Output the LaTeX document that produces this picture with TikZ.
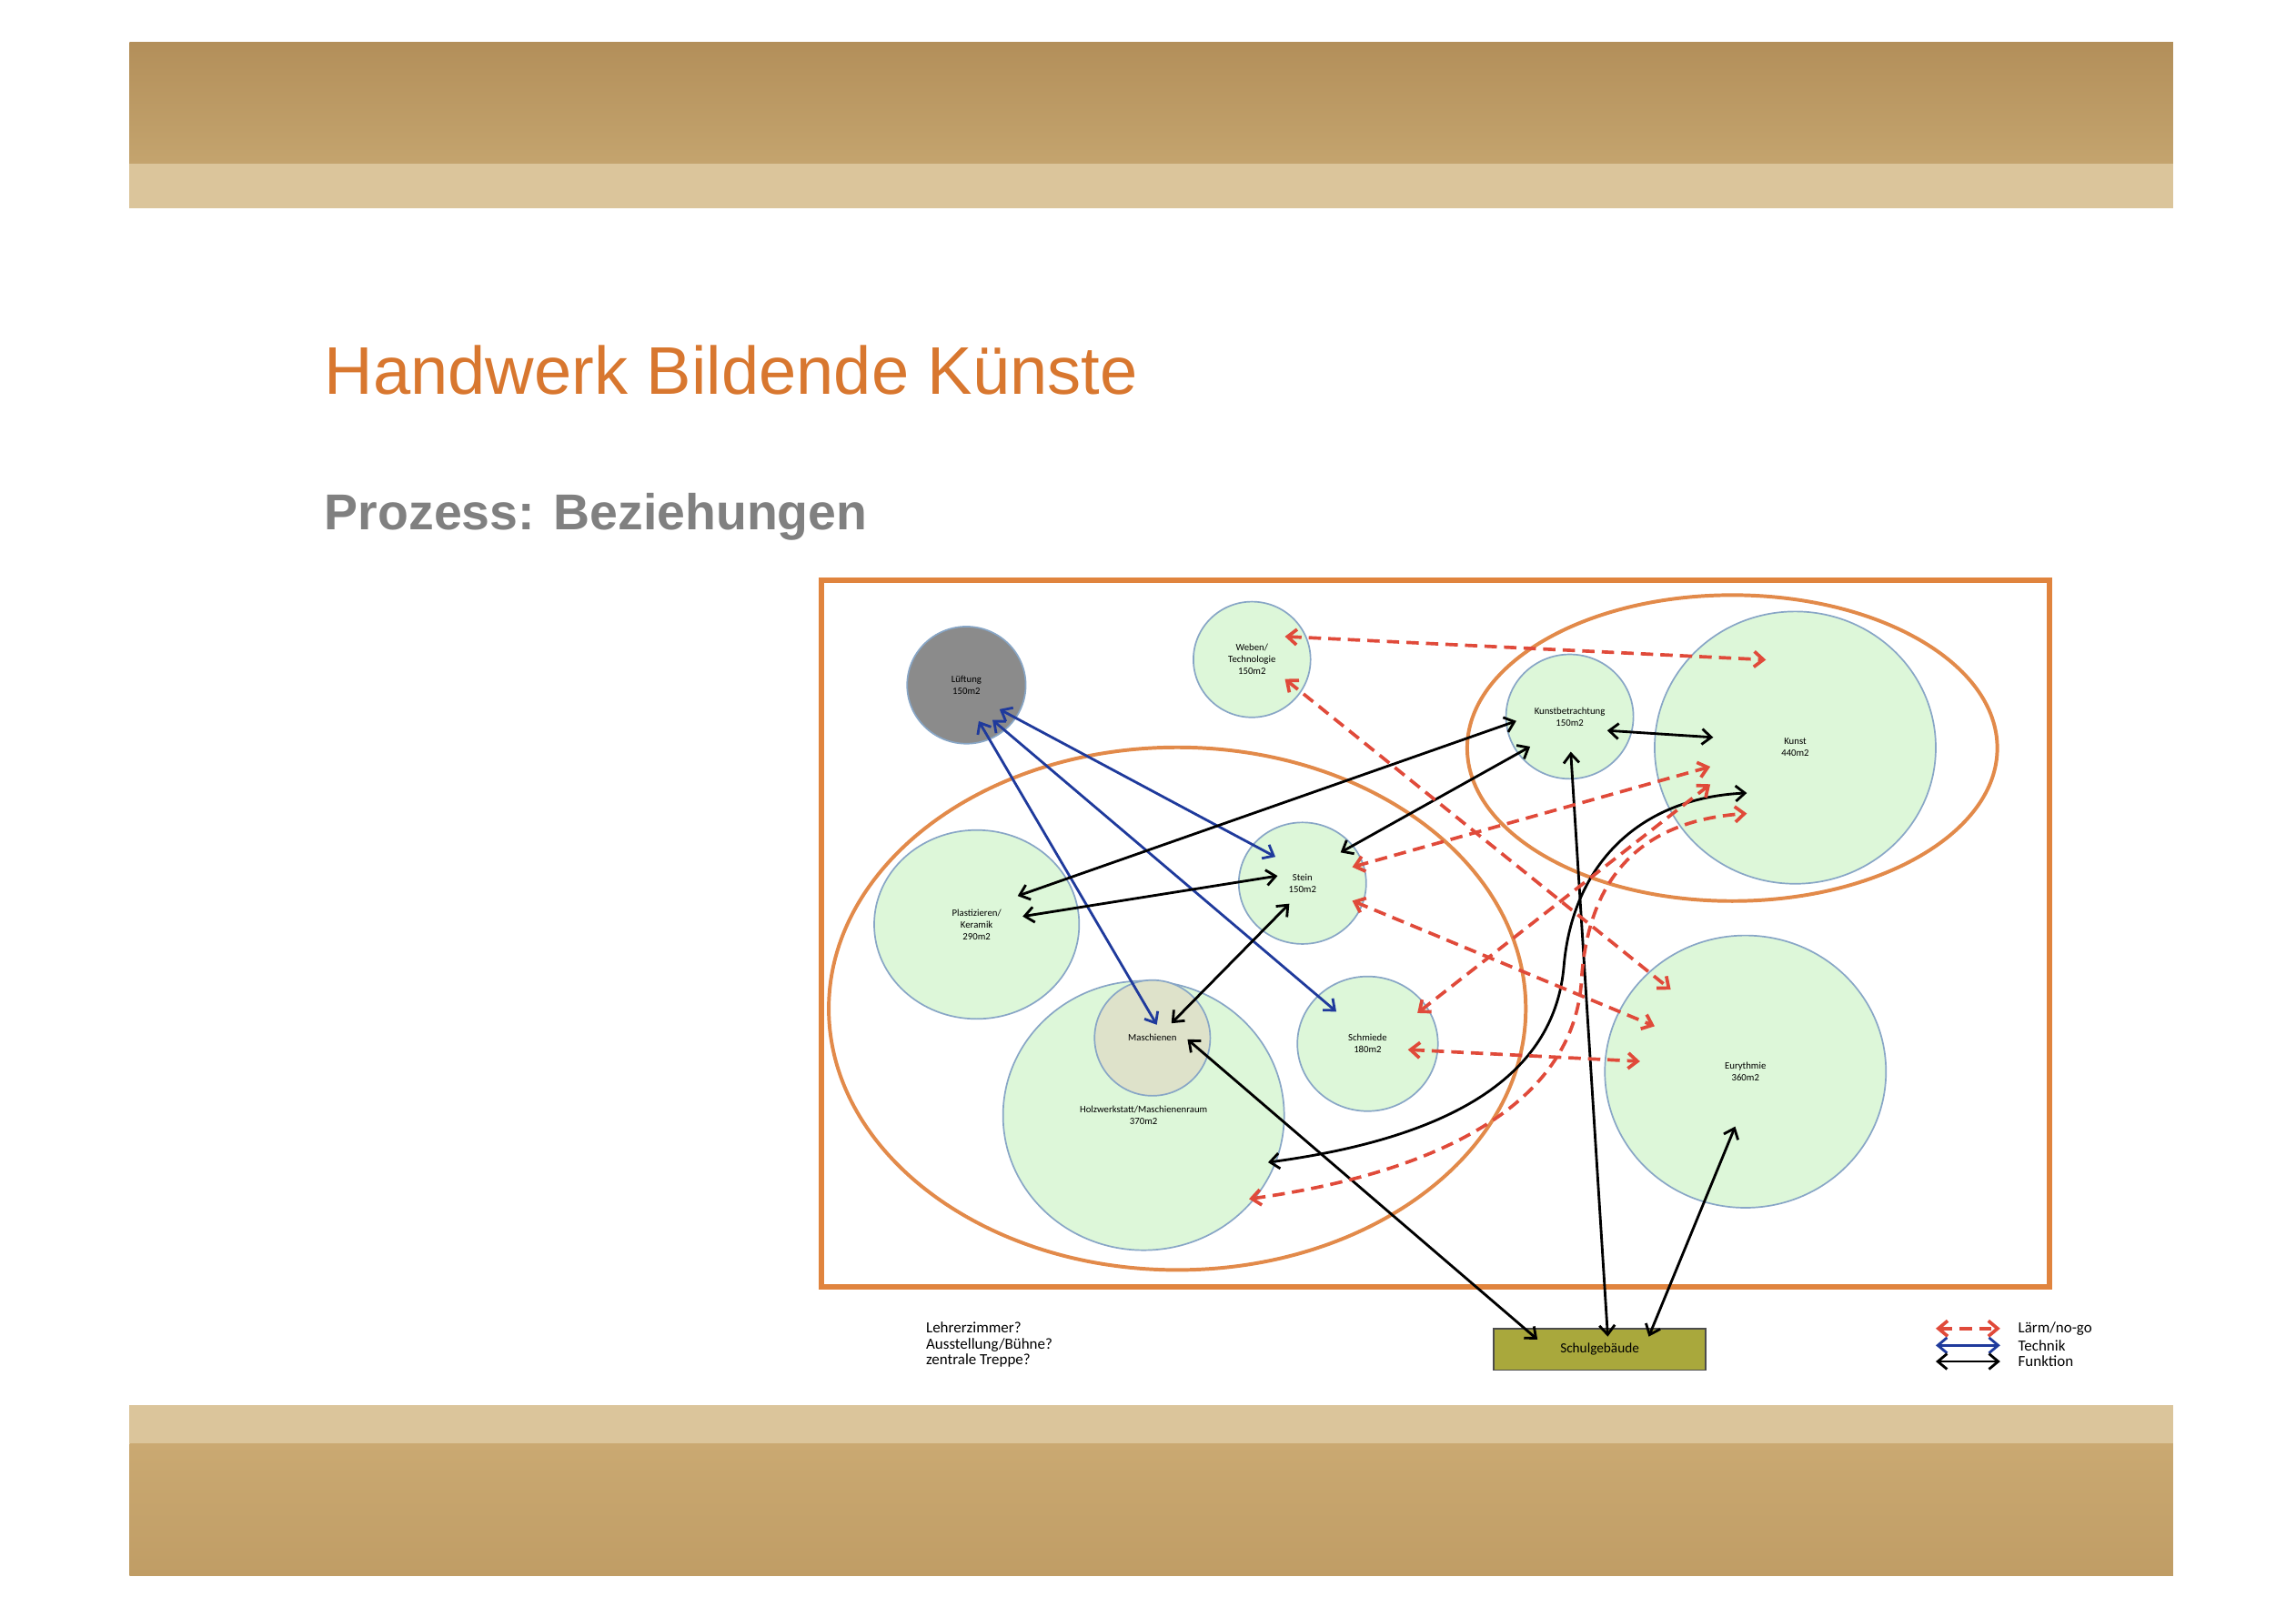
\documentclass[tikz,border=0pt]{standalone}
\usepackage{fontspec}
\setmainfont{Liberation Sans}
\newfontfamily\roomfont{Carlito}
\usetikzlibrary{shapes.geometric,arrows.meta}

\definecolor{titleorange}{HTML}{D8772F}
\definecolor{subgray}{HTML}{808080}
\definecolor{frameorange}{HTML}{E0843E}
\definecolor{zoneorange}{HTML}{E28A4A}
\definecolor{roomfill}{HTML}{DDF7D9}
\definecolor{roomline}{HTML}{88A6C6}
\definecolor{ventgray}{HTML}{8B8B8B}
\definecolor{machfill}{HTML}{DEE2CA}
\definecolor{schoolfill}{HTML}{A9A83C}
\definecolor{noisered}{HTML}{E04A3A}
\definecolor{techblue}{HTML}{1F3A9C}
\definecolor{woodA}{HTML}{B38F5A}
\definecolor{woodB}{HTML}{C4A46E}
\definecolor{woodC}{HTML}{DBC59B}
\definecolor{woodD}{HTML}{CAA972}
\definecolor{woodE}{HTML}{C09D65}

\begin{document}
\begin{tikzpicture}[x=0.1mm, y=-0.1mm,
    >={Straight Barb[length=1.8pt,width=3pt]},
    room/.style={ellipse, draw=roomline, line width=0.3pt, fill=roomfill,
        inner sep=0pt, align=center, font=\roomfont\fontsize{1.9}{2.3}\selectfont},
    zone/.style={draw=zoneorange, line width=0.7pt},
    tech/.style={<->, draw=techblue, line width=0.5pt},
    func/.style={<->, draw=black, line width=0.5pt},
    noise/.style={<->, draw=noisered, line width=0.65pt, dash pattern=on 2.4pt off 1.4pt},
    smalltext/.style={inner sep=0pt, align=left, font=\roomfont\fontsize{3}{3.1}\selectfont}]

    \useasboundingbox (0,0) rectangle (1568,1104.5);

    % Wood bands
    \shade[top color=woodA, bottom color=woodB] (88.5,29) rectangle (1484,112);
    \fill[woodC] (88.5,112) rectangle (1484,142);
    \fill[woodC] (88.5,960) rectangle (1484,986);
    \shade[top color=woodD, bottom color=woodE] (88.5,986) rectangle (1484,1076);

    % Titles
    \node[anchor=base west, inner sep=0pt, text=titleorange,
        font=\fontsize{13.1}{15}\selectfont] (titel) at (221,269.4) {Handwerk Bildende Künste};
    \node[anchor=base west, inner sep=0pt, text=subgray,
        font=\bfseries\fontsize{9.8}{11}\selectfont] (untertitel) at (221,362) {Prozess: Beziehungen};

    % Frame and zones
    \draw[draw=frameorange, line width=1.1pt] (561,396.5) rectangle (1399.6,879);
    \draw[zone] (804,689) ellipse [x radius=238, y radius=178.5];
    \draw[zone] (1183,511) ellipse [x radius=181, y radius=104.5];

    % Rooms
    \node[room, fill=ventgray, minimum width=8.1mm, minimum height=8mm] (lueft) at (660,468) {Lüftung\\150m2};
    \node[room, minimum width=8mm, minimum height=7.9mm] (weben) at (855,450.5) {Weben/\\Technologie\\150m2};
    \node[room, minimum width=8.7mm, minimum height=8.5mm] (kbetr) at (1072,489.5) {Kunstbetrachtung\\150m2};
    \node[room, minimum width=19.2mm, minimum height=18.6mm] (kunst) at (1226,510.7) {Kunst\\440m2};
    \node[room, minimum width=8.7mm, minimum height=8.3mm] (stein) at (889.5,603.3) {Stein\\150m2};
    \node[room, minimum width=14mm, minimum height=12.9mm] (plast) at (667,631.5) {Plastizieren/\\Keramik\\290m2};
    \node[room, minimum width=19.2mm, minimum height=18.4mm] (holz) at (781,762) {Holzwerkstatt/Maschienenraum\\370m2};
    \node[room, fill=machfill, minimum width=7.9mm, minimum height=7.9mm] (masch) at (787,709) {Maschienen};
    \node[room, minimum width=9.6mm, minimum height=9.2mm] (schmiede) at (934,713) {Schmiede\\180m2};
    \node[room, minimum width=19.2mm, minimum height=18.6mm] (euryth) at (1192,732) {Eurythmie\\360m2};
    \node[draw=black!70, line width=0.3pt, fill=schoolfill, minimum width=14.5mm, minimum height=2.85mm,
        inner sep=0pt, font=\roomfont\fontsize{2.7}{3}\selectfont] (schule) at (1092.5,921.7) {Schulgebäude};

    % Technik
    \foreach \s/\sx/\sy/\t/\tx/\ty in {lueft/8.4/24.6/masch/3/-9, lueft/17.8/23.8/schmiede/-21.4/-22,
        lueft/22.6/16.5/stein/-18.5/-18}
        \draw[tech] ([shift={(\sx,\sy)}]\s.center) -- ([shift={(\tx,\ty)}]\t.center);

    % Funktion
    \foreach \s/\sx/\sy/\t/\tx/\ty in {plast/28/-19.5/kbetr/-36.5/3, plast/31.4/-5.5/stein/-17/-5,
        stein/26/-21/kbetr/-27/20.5, stein/-9/14/masch/13/-10, kbetr/25.6/9.5/kunst/-56/-7,
        masch/24/1/schule/-42.5/-6.7, kbetr/0.7/24/schule/5.5/-8.7, euryth/-7/37.5/schule/33.5/-8.7}
        \draw[func] ([shift={(\sx,\sy)}]\s.center) -- ([shift={(\tx,\ty)}]\t.center);
    \draw[func] ([shift={(85,32)}]holz.center) .. controls (1000,776) and (1062,730) .. (1068,660)
        .. controls (1074,590) and (1120,545) .. ([shift={(-33,31)}]kunst.center);

    % Laerm / no-go
    \foreach \s/\sx/\sy/\t/\tx/\ty in {weben/22.5/-15.7/kunst/-20/-60, weben/22.5/13.3/euryth/-51/-56,
        stein/34/-11/kunst/-58/13, stein/34/12/euryth/-62/-31,
        schmiede/34/-21/kunst/-58/25, schmiede/27.5/4/euryth/-72/-7}
        \draw[noise] ([shift={(\sx,\sy)}]\s.center) -- ([shift={(\tx,\ty)}]\t.center);
    \draw[noise] ([shift={(72,57)}]holz.center) .. controls (990,800) and (1075,750) .. (1080,670)
        .. controls (1085,590) and (1130,560) .. ([shift={(-33,45)}]kunst.center);

    % Open questions
    \node[smalltext, anchor=west] (fragen) at (631.8,918.6) {Lehrerzimmer?\\Ausstellung/Bühne?\\zentrale Treppe?};

    % Legend
    \foreach \n/\y/\st/\txt in {lnoise/907.5/noise/{Lärm/no-go}, ltech/919/tech/Technik, lfunc/930/func/Funktion} {
        \node[smalltext, anchor=west] (\n) at (1377.6,\y) {\txt};
        \coordinate (\n-a) at (1322,\y);
        \draw[\st] (\n-a) -- ([xshift=-1.16mm]\n.west);
    }

\end{tikzpicture}
\end{document}
